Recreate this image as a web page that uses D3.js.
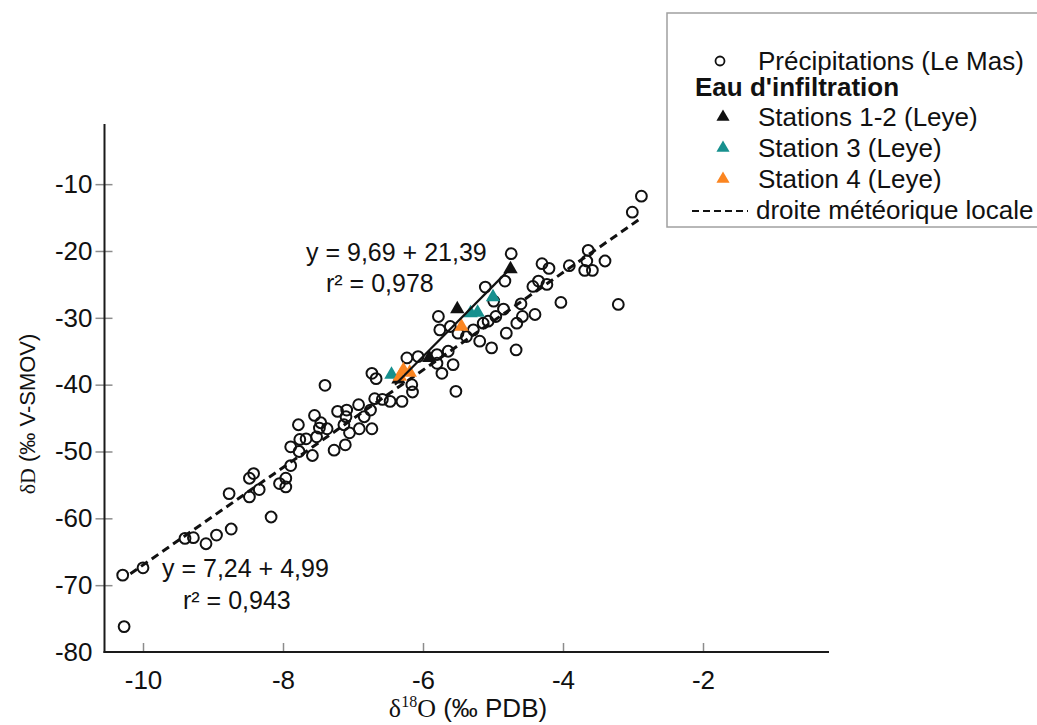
<!DOCTYPE html>
<html><head><meta charset="utf-8">
<script src="https://cdn.jsdelivr.net/npm/d3@7"></script>
<style>body{margin:0;background:#fff} svg{display:block}</style>
</head><body>
<svg id="c" width="1037" height="725"></svg>
<script>
// ---- data ----
const precipD18O = [-10.29,-10.27,-10.0,-9.40,-9.28,-9.10,-8.95,-8.74,-8.77,-8.48,-8.34,-8.48,-8.42,-8.17,-8.05,-7.96,-7.96,-7.89,-7.89,-7.77,
  -7.78,-7.76,-7.67,-7.58,-7.55,-7.46,-7.48,-7.52,-7.37,-7.40,-7.27,-7.11,-7.22,-7.09,-7.10,-7.13,-7.05,-6.92,-6.91,-6.73,
  -6.84,-6.75,-6.69,-6.58,-6.47,-6.30,-6.73,-6.67,-6.23,-6.07,-6.16,-6.15,-5.80,-5.64,-5.80,-5.73,-5.57,-5.53,-5.78,-5.76,
  -5.61,-5.50,-5.38,-5.28,-5.19,-5.02,-5.11,-4.99,-5.14,-5.07,-4.96,-4.85,-4.83,-4.74,-4.81,-4.60,-4.58,-4.40,-4.66,-4.67,
  -4.43,-4.35,-4.23,-4.30,-4.20,-4.03,-3.91,-3.69,-3.58,-3.66,-3.64,-3.40,-3.21,-3.01,-2.88];
const precipDD = [-68.5,-76.2,-67.4,-63.0,-62.9,-63.8,-62.5,-61.6,-56.3,-56.8,-55.7,-54.0,-53.3,-59.8,-54.8,-54.0,-55.3,-52.1,-49.3,-50.0,
  -46.0,-48.2,-48.1,-50.6,-44.6,-45.7,-46.5,-47.8,-46.6,-40.1,-49.8,-49.0,-44.0,-43.8,-44.8,-46.0,-47.2,-43.0,-46.6,-46.6,
  -44.8,-43.8,-42.1,-42.2,-42.5,-42.5,-38.3,-39.1,-36.0,-35.8,-40.0,-41.1,-35.5,-35.0,-36.8,-38.3,-37.0,-41.0,-29.8,-31.8,
  -31.3,-32.3,-32.8,-31.8,-33.5,-34.5,-25.4,-27.5,-30.8,-30.5,-29.8,-28.7,-24.5,-20.4,-32.3,-27.9,-29.8,-29.5,-30.8,-34.8,
  -25.3,-24.5,-25.0,-21.9,-22.6,-27.7,-22.2,-22.9,-22.9,-21.5,-19.9,-21.5,-28.0,-14.2,-11.8];

const st12D18O = [-4.75,-5.51,-5.91,-6.35];
const st12DD   = [-22.7,-28.7,-36.0,-39.2];
const st3D18O  = [-5.00,-5.22,-5.32,-6.45];
const st3DD    = [-26.9,-29.2,-29.3,-38.5];
const st4D18O  = [-5.45,-6.28,-6.19,-6.33];
const st4DD    = [-31.3,-37.8,-38.2,-38.8];

const lmwlD18O = [-10.18,-2.90];
const lmwlDD   = [-68.3,-15.2];
const infD18O  = [-6.40,-4.75];
const infDD    = [-40.0,-22.6];

const xTicks = [-10,-8,-6,-4,-2];
const yTicks = [-10,-20,-30,-40,-50,-60,-70,-80];

const legendLabels = ["Précipitations (Le Mas)","Eau d'infiltration","Stations 1-2 (Leye)","Station 3 (Leye)","Station 4 (Leye)","droite météorique locale"];
const eqInf = ["y = 9,69 + 21,39","r² = 0,978"];
const eqLmwl = ["y = 7,24 + 4,99","r² = 0,943"];

const colBlack = "#111", colTeal = "#17908e", colOrange = "#fb8520";
const SANS = "'Liberation Sans', Arial, sans-serif";
const SERIF = "'Liberation Serif', 'Times New Roman', serif";

// ---- scales ----
const svg = d3.select("#c");
const x = d3.scaleLinear().domain([-10.55,-0.2]).range([104.5,829]);
const y = d3.scaleLinear().domain([-80,-1]).range([652,124]);

// ---- axes ----
const xAx = svg.append("g").attr("transform",`translate(0,${y(-80)})`)
  .call(d3.axisBottom(x).tickValues(xTicks).tickSize(0).tickPadding(19).tickFormat(d=>String(d)));
xAx.select(".domain").remove();
xAx.selectAll(".tick text").attr("font-family",SANS).attr("font-size",26).attr("fill","#111");
xAx.selectAll(".tick").append("line").attr("y1",0).attr("y2",-9).attr("stroke","#8c8c8c").attr("stroke-width",1.5);

const yAx = svg.append("g").attr("transform",`translate(${x(-10.55)},0)`)
  .call(d3.axisLeft(y).tickValues(yTicks).tickSize(0).tickPadding(12).tickFormat(d=>String(d)));
yAx.select(".domain").remove();
yAx.selectAll(".tick text").attr("font-family",SANS).attr("font-size",26).attr("fill","#111");
yAx.selectAll(".tick").filter(d=>d!==-80).append("line").attr("x1",-9).attr("x2",8).attr("stroke","#8c8c8c").attr("stroke-width",1.5);

svg.append("line").attr("x1",x(-10.55)).attr("x2",x(-10.55)).attr("y1",y(-1)).attr("y2",y(-80)+1)
  .attr("stroke","#1a1a1a").attr("stroke-width",2);
svg.append("line").attr("x1",x(-10.55)-1).attr("x2",x(-0.2)).attr("y1",y(-80)).attr("y2",y(-80))
  .attr("stroke","#1a1a1a").attr("stroke-width",2);

// axis titles
const xt = svg.append("text").attr("x",468).attr("y",717).attr("text-anchor","middle")
  .attr("font-size",26).attr("fill","#111");
xt.append("tspan").attr("font-family",SERIF).text("δ");
xt.append("tspan").attr("font-family",SERIF).attr("font-size",16).attr("dy",-10).text("18");
xt.append("tspan").attr("font-family",SERIF).attr("dy",10).text("O");
xt.append("tspan").attr("font-family",SANS).text(" (‰ PDB)");

const yt = svg.append("text").attr("transform","translate(35,414) rotate(-90)").attr("text-anchor","middle")
  .attr("font-size",22).attr("fill","#111");
yt.append("tspan").attr("font-family",SERIF).text("δD");
yt.append("tspan").attr("font-family",SANS).text(" (‰ V-SMOV)");

// ---- marks ----
const precip = d3.zip(precipD18O, precipDD);
svg.append("g").selectAll("circle").data(precip).join("circle")
  .attr("cx",d=>x(d[0])).attr("cy",d=>y(d[1])).attr("r",5.4)
  .attr("fill","none").attr("stroke","#111").attr("stroke-width",2);

const line = d3.line().x(d=>x(d[0])).y(d=>y(d[1]));
svg.append("path").datum(d3.zip(lmwlD18O,lmwlDD)).attr("d",line)
  .attr("stroke","#111").attr("stroke-width",3).attr("stroke-dasharray","8,5").attr("fill","none");

const tri = d3.symbol().type(d3.symbolTriangle).size(90);
const series = [[st12D18O,st12DD,colBlack],[st3D18O,st3DD,colTeal],[st4D18O,st4DD,colOrange]];
series.forEach(([xs,ys,c])=>{
  svg.append("g").selectAll("path").data(d3.zip(xs,ys)).join("path")
    .attr("d",tri).attr("transform",d=>`translate(${x(d[0])},${y(d[1])})`).attr("fill",c);
});

svg.append("path").datum(d3.zip(infD18O,infDD)).attr("d",line)
  .attr("stroke","#111").attr("stroke-width",2.2).attr("fill","none");

// equations
const eq = (lines, x0s, ys) => lines.forEach((t,i)=>svg.append("text").attr("x",x0s[i]).attr("y",ys[i])
  .attr("font-family",SANS).attr("font-size",25).attr("fill","#111").text(t));
eq(eqInf,[306,326],[261,292]);
eq(eqLmwl,[162,183],[577,609]);

// ---- legend ----
const lg = svg.append("g");
lg.append("rect").attr("x",667).attr("y",13).attr("width",400).attr("height",214)
  .attr("fill","#fff").attr("stroke","#a0a0a0").attr("stroke-width",1.5);
const base = [70,96,126,157,188,219];
lg.append("circle").attr("cx",720).attr("cy",base[0]-9).attr("r",4.5).attr("fill","none").attr("stroke","#111").attr("stroke-width",1.8);
[colBlack,colTeal,colOrange].forEach((c,i)=>{
  lg.append("path").attr("d",d3.symbol().type(d3.symbolTriangle).size(75))
    .attr("transform",`translate(723,${base[i+2]-9})`).attr("fill",c);
});
lg.append("line").attr("x1",692).attr("x2",748).attr("y1",base[5]-8).attr("y2",base[5]-8)
  .attr("stroke","#111").attr("stroke-width",2.2).attr("stroke-dasharray","7,4");
legendLabels.forEach((t,i)=>{
  lg.append("text").attr("x", i===1?695:(i===5?756:758)).attr("y",base[i])
    .attr("font-family",SANS).attr("font-size",26).attr("font-weight",i===1?"bold":"normal")
    .attr("fill","#111").text(t);
});
</script>
</body></html>
